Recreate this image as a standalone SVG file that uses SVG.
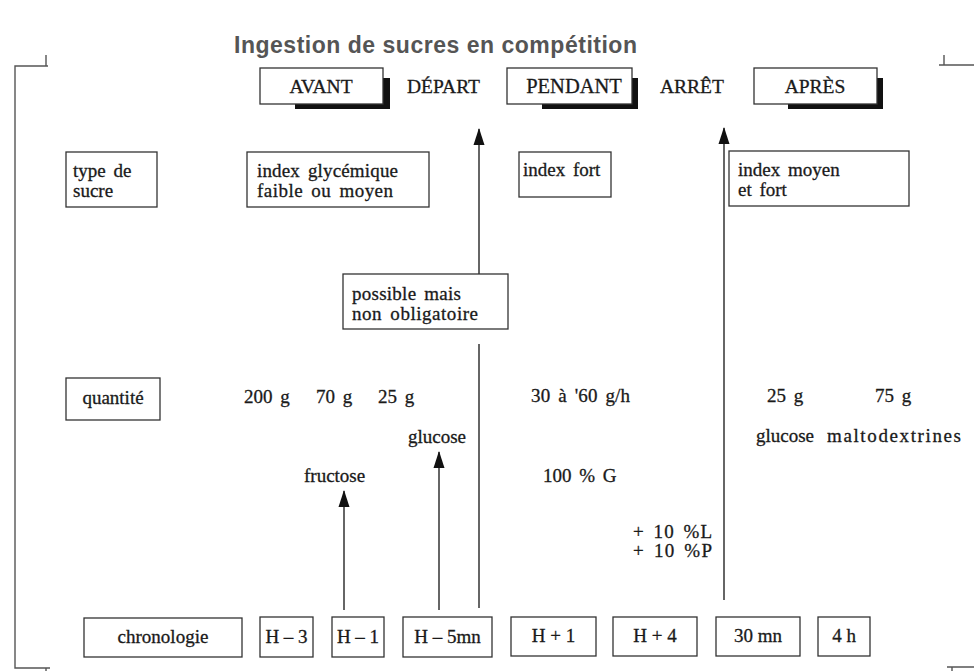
<svg xmlns="http://www.w3.org/2000/svg" width="974" height="671" viewBox="0 0 974 671">
  <defs>
    <marker id="head" markerUnits="userSpaceOnUse" markerWidth="17" markerHeight="12" refX="16" refY="6" orient="auto" viewBox="0 0 17 12">
      <path d="M0 0.5 L17 6 L0 11.5 Z" fill="#111"/>
    </marker>
  </defs>
  <style>
    .frame { fill: none; stroke: #555; stroke-width: 1.4; }
    .box { fill: #fff; stroke: #333; stroke-width: 1.3; }
    .shadow { fill: #111; }
    .line { fill: none; stroke: #333; stroke-width: 1.5; }
    .hdr { font-family: "Liberation Serif", "Times New Roman", serif; font-size: 19.5px; fill: #1a1a1a; stroke: #1a1a1a; stroke-width: 0.3; }
    .t { font-family: "Liberation Serif", "Times New Roman", serif; font-size: 19px; fill: #1a1a1a; stroke: #1a1a1a; stroke-width: 0.3; word-spacing: 3px; }
    .c { font-family: "Liberation Serif", "Times New Roman", serif; font-size: 19px; fill: #1a1a1a; stroke: #1a1a1a; stroke-width: 0.3; }
    .title { font-family: "Liberation Sans", Arial, sans-serif; font-size: 23px; font-weight: bold; fill: #555; }
  </style>

  <rect width="974" height="671" fill="#fff"/>

  <text class="title" x="234" y="53" textLength="403" lengthAdjust="spacing">Ingestion de sucres en compétition</text>

  <!-- page frame corners -->
  <g id="frame">
    <path class="frame" d="M48 66 H15 V668 H50 M46 55 V66 M46 668 V671"/>
    <path class="frame" d="M939 65 H974 M944 55 V65 M947 667 H974 M952 667 V671"/>
  </g>

  <!-- phase headers -->
  <g id="avant">
    <rect class="shadow" x="383" y="78" width="7" height="31"/>
    <rect class="shadow" x="295" y="103" width="95" height="6"/>
    <rect class="box" x="260" y="68" width="123" height="36"/>
    <text class="hdr" x="321" y="93" text-anchor="middle">AVANT</text>
  </g>
  <g id="depart">
    <text class="hdr" x="407" y="93">DÉPART</text>
  </g>
  <g id="pendant">
    <rect class="shadow" x="632" y="78" width="6" height="31"/>
    <rect class="shadow" x="542" y="103" width="96" height="6"/>
    <rect class="box" x="507" y="68" width="125" height="36"/>
    <text class="hdr" x="574" y="93" text-anchor="middle" style="font-size:20.5px">PENDANT</text>
  </g>
  <g id="arret">
    <text class="hdr" x="660" y="93">ARRÊT</text>
  </g>
  <g id="apres">
    <rect class="shadow" x="877" y="78" width="6" height="31"/>
    <rect class="shadow" x="788" y="103" width="95" height="6"/>
    <rect class="box" x="754" y="68" width="123" height="36"/>
    <text class="hdr" x="815" y="93" text-anchor="middle">APRÈS</text>
  </g>

  <!-- connectors -->
  <g id="connectors">
    <line class="line" x1="479" y1="274" x2="479" y2="129" marker-end="url(#head)"/>
    <line class="line" x1="479" y1="344" x2="479" y2="608"/>
    <line class="line" x1="724" y1="600" x2="724" y2="128" marker-end="url(#head)"/>
    <line class="line" x1="439" y1="610" x2="439" y2="452" marker-end="url(#head)"/>
    <line class="line" x1="344" y1="610" x2="344" y2="491" marker-end="url(#head)"/>
  </g>

  <!-- row: type de sucre -->
  <g id="type-sucre">
    <rect class="box" x="66" y="152" width="91" height="55"/>
    <text class="t" x="73" y="177">type de</text>
    <text class="t" x="73" y="197">sucre</text>
  </g>
  <g id="index-glycemique">
    <rect class="box" x="247" y="152" width="182" height="55"/>
    <text class="t" x="257" y="177" textLength="141" lengthAdjust="spacing">index glycémique</text>
    <text class="t" x="257" y="197" textLength="136" lengthAdjust="spacing">faible ou moyen</text>
  </g>
  <g id="index-fort">
    <rect class="box" x="519" y="152" width="92" height="45"/>
    <text class="t" x="523" y="176">index fort</text>
  </g>
  <g id="index-moyen">
    <rect class="box" x="729" y="151" width="180" height="55"/>
    <text class="t" x="738" y="176">index moyen</text>
    <text class="t" x="738" y="196">et fort</text>
  </g>

  <g id="possible">
    <rect class="box" x="343" y="274" width="165" height="55"/>
    <text class="t" x="352" y="300" textLength="109" lengthAdjust="spacing">possible mais</text>
    <text class="t" x="352" y="320" textLength="126" lengthAdjust="spacing">non obligatoire</text>
  </g>

  <!-- row: quantité -->
  <g id="quantite">
    <rect class="box" x="66" y="378" width="94" height="42"/>
    <text class="c" x="113" y="404" text-anchor="middle">quantité</text>
  </g>
  <g id="quantites-avant">
    <text class="t" x="244" y="403">200 g</text>
    <text class="t" x="316" y="403">70 g</text>
    <text class="t" x="378" y="403">25 g</text>
    <text class="c" x="408" y="443">glucose</text>
    <text class="c" x="304" y="482">fructose</text>
  </g>
  <g id="quantites-pendant">
    <text class="t" x="531" y="402" textLength="99" lengthAdjust="spacing">30 à '60 g/h</text>
    <text class="t" x="543" y="482">100 % G</text>
    <text class="t" x="633" y="538" textLength="79" lengthAdjust="spacing">+ 10 %L</text>
    <text class="t" x="633" y="557" textLength="79" lengthAdjust="spacing">+ 10 %P</text>
  </g>
  <g id="quantites-apres">
    <text class="t" x="767" y="402">25 g</text>
    <text class="t" x="875" y="402">75 g</text>
    <text class="c" x="756" y="442">glucose</text>
    <text class="c" x="827" y="442" textLength="134" lengthAdjust="spacing">maltodextrines</text>
  </g>

  <!-- row: chronologie -->
  <g id="chronologie">
    <rect class="box" x="84" y="618" width="158" height="39"/>
    <text class="c" x="163" y="643" text-anchor="middle">chronologie</text>
  </g>
  <g id="h-3">
    <rect class="box" x="260" y="617" width="53" height="40"/>
    <text class="c" x="286.5" y="643" text-anchor="middle">H – 3</text>
  </g>
  <g id="h-1">
    <rect class="box" x="332" y="617" width="52" height="40"/>
    <text class="c" x="358" y="643" text-anchor="middle">H – 1</text>
  </g>
  <g id="h-5mn">
    <rect class="box" x="403" y="617" width="89" height="40"/>
    <text class="c" x="447.5" y="643" text-anchor="middle">H – 5mn</text>
  </g>
  <g id="h+1">
    <rect class="box" x="511" y="617" width="85" height="39"/>
    <text class="c" x="553.5" y="642" text-anchor="middle">H + 1</text>
  </g>
  <g id="h+4">
    <rect class="box" x="613" y="617" width="84" height="39"/>
    <text class="c" x="655" y="642" text-anchor="middle">H + 4</text>
  </g>
  <g id="30mn">
    <rect class="box" x="716" y="617" width="84" height="39"/>
    <text class="c" x="758" y="642" text-anchor="middle">30 mn</text>
  </g>
  <g id="4h">
    <rect class="box" x="818" y="617" width="52" height="39"/>
    <text class="c" x="844" y="642" text-anchor="middle">4 h</text>
  </g>
</svg>
